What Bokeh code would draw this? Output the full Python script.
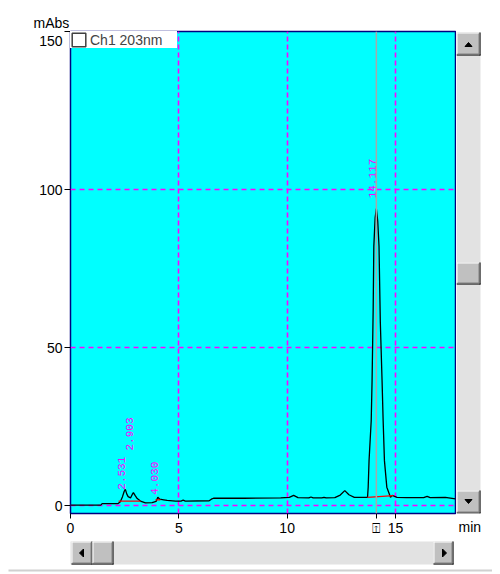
import numpy as np
from bokeh.plotting import figure
from bokeh.models import Range1d, FixedTicker, Span, Legend, LegendItem, Title
from bokeh.layouts import row, column
from bokeh.core.properties import value
from bokeh.embed import file_html
from bokeh.resources import INLINE

# ---------------- data ----------------
time_min = [0.00, 1.40, 1.46, 2.20, 2.30, 2.40, 2.48, 2.531, 2.60, 2.66, 2.77, 2.85, 2.903,
            2.98, 3.08, 3.23, 3.46, 3.77, 3.95, 4.030, 4.12, 4.30, 4.46, 4.85, 5.10, 5.20,
            5.30, 6.40, 6.50, 6.60, 8.00, 9.70, 10.10, 10.30, 10.50, 11.00, 11.10, 11.20,
            11.60, 11.70, 11.80, 12.20, 12.45, 12.66, 12.85, 13.10, 13.71, 13.74, 13.78,
            13.88, 13.92, 13.97, 14.00, 14.06, 14.117, 14.18, 14.24, 14.30, 14.38, 14.43,
            14.49, 14.60, 14.77, 14.85, 15.07, 15.50, 16.30, 16.46, 16.60, 17.30, 17.77]
signal_mabs = [0.1, 0.1, 0.6, 0.6, 1.2, 2.8, 4.5, 5.1, 3.6, 2.8, 2.4, 3.5, 4.1,
               3.2, 2.2, 1.4, 0.85, 0.9, 1.3, 2.6, 2.0, 1.8, 1.6, 1.4, 1.4, 1.7,
               1.4, 1.5, 2.0, 2.3, 2.3, 2.4, 2.6, 3.2, 2.5, 2.4, 2.7, 2.4,
               2.4, 2.6, 2.4, 2.5, 3.3, 4.7, 3.4, 2.6, 2.6, 5.8, 14.2,
               26.9, 39.6, 62.0, 82.0, 91.0, 94.0, 90.0, 82.0, 58.0, 39.6, 26.9,
               14.2, 5.8, 2.6, 3.2, 2.6, 2.5, 2.5, 2.9, 2.5, 2.6, 2.1]

peak_times = [2.531, 2.903, 4.030, 14.117]
peak_labels = ["2.531", "2.903", "4.030", "14.117"]
peak_label_base = [5.0, 17.4, 3.4, 97.2]

baseline_t0 = [2.22, 3.92, 13.71]
baseline_v0 = [1.4, 1.8, 2.6]
baseline_t1 = [3.23, 4.15, 14.90]
baseline_v1 = [1.4, 1.8, 3.1]

x_ticks = [0, 5, 10, 15]
y_ticks = [0, 50, 100, 150]
x_grid = [5, 10, 15]
y_grid = [0, 50, 100]
x_limits = [0, 17.77]
y_limits = [-2.53, 150]
channel_name = "Ch1 203nm"
cursor_time = 14.117
cursor_mark = "\u2350"
x_unit = "min"
y_unit = "mAbs"

FONT = "Liberation Sans"
MAGENTA = "#FF00FF"
NAVY = "#000080"

# ---------------- main chromatogram ----------------
p = figure(width=456, height=540,
           x_range=Range1d(*x_limits), y_range=Range1d(*y_limits),
           output_backend="svg", toolbar_location=None,
           min_border_left=70, min_border_right=1, min_border_top=31, min_border_bottom=27)
p.background_fill_color = "#00FFFF"
p.border_fill_color = "white"
p.outline_line_color = NAVY
p.outline_line_width = 1.5

p.title.text = y_unit
p.title.align = "left"
p.title.offset = -37
p.title.standoff = 1
p.title.text_font = FONT
p.title.text_font_size = "14px"
p.title.text_font_style = "normal"
p.title.text_color = "black"

p.xgrid.ticker = FixedTicker(ticks=x_grid)
p.ygrid.ticker = FixedTicker(ticks=y_grid)
p.xgrid.grid_line_color = MAGENTA
p.ygrid.grid_line_color = MAGENTA
p.xgrid.grid_line_dash = "5 3"
p.ygrid.grid_line_dash = "5 4"
p.grid.grid_line_width = 1.6

p.xaxis.ticker = FixedTicker(ticks=x_ticks + [cursor_time])
p.xaxis.major_label_overrides = {cursor_time: cursor_mark}
p.yaxis.ticker = FixedTicker(ticks=y_ticks)
p.yaxis.major_label_overrides = {y_ticks[-1]: "\n" + str(y_ticks[-1])}
for ax in (p.xaxis, p.yaxis):
    ax.axis_line_color = None
    ax.major_tick_line_color = "black"
    ax.major_tick_in = 0
    ax.minor_tick_line_color = None
    ax.major_label_text_font = FONT
    ax.major_label_text_font_size = "14px"
    ax.major_label_text_color = "black"
p.xaxis.major_tick_out = 5
p.xaxis.major_label_standoff = 1
p.yaxis.major_tick_out = 6
p.yaxis.major_label_standoff = 2

p.line(time_min, signal_mabs, line_color="black", line_width=1.3)
p.segment(x0=baseline_t0, y0=baseline_v0, x1=baseline_t1, y1=baseline_v1,
          line_color="red", line_width=1.2)
p.text(x=peak_times, y=peak_label_base, text=peak_labels, angle=np.pi / 2,
       text_color=MAGENTA, text_font=value("Liberation Mono"), text_font_size="11px",
       text_align="left", text_baseline="bottom")

p.add_layout(Span(location=cursor_time, dimension="height",
                  line_color="#A8A8A8", line_width=1.5))

dummy = p.quad(left=[np.nan], right=[np.nan], top=[np.nan], bottom=[np.nan],
               fill_color="white", line_color="#404040", line_width=1.5)
legend = Legend(items=[LegendItem(label=channel_name, renderers=[dummy])],
                location="top_left", margin=0, padding=4, spacing=0,
                border_line_color=None, background_fill_color="white",
                background_fill_alpha=1.0, label_text_font=FONT,
                label_text_font_size="14px", glyph_width=17, glyph_height=17,
                label_width=87, label_height=16, label_standoff=3)
p.add_layout(legend)

# ---------------- window chrome: scrollbars ----------------
def chrome_fig(w, h, y0, y1):
    f = figure(width=w, height=h, x_range=Range1d(0, w), y_range=Range1d(y1, y0),
               x_axis_type=None, y_axis_type=None, output_backend="svg",
               toolbar_location=None, min_border=0)
    f.grid.visible = False
    f.outline_line_color = None
    f.background_fill_color = "white"
    f.border_fill_color = "white"
    return f


def button(f, x0, x1, y0, y1):
    f.quad(left=x0, right=x1, top=y0, bottom=y1, fill_color="#C0C0C0", line_color=None)
    f.segment(x0=[x0, x0 + 0.5], y0=[y0 + 0.5, y0], x1=[x1 - 1, x0 + 0.5], y1=[y0 + 0.5, y1 - 1],
              line_color="white", line_width=1)
    f.segment(x0=[x0, x1 - 0.5], y0=[y1 - 0.5, y0], x1=[x1, x1 - 0.5], y1=[y1 - 0.5, y1],
              line_color="black", line_width=1)
    f.segment(x0=[x0 + 1, x1 - 1.5], y0=[y1 - 1.5, y0 + 1], x1=[x1 - 1, x1 - 1.5], y1=[y1 - 1.5, y1 - 1],
              line_color="#808080", line_width=1)


# vertical scrollbar: its frame is aligned with the chart frame (page y 31..513)
vs = chrome_fig(36, 540, 31, 513)
vs.quad(left=0, right=24, top=32, bottom=513, fill_color="#E2E2E2", line_color=None)
button(vs, 0, 24, 32, 55)
button(vs, 0, 24, 490, 513)
button(vs, 0, 24, 262, 284)
vs.patch([8.5, 15.5, 12], [46, 46, 42], fill_color="black", line_color="black")
vs.patch([8.5, 15.5, 12], [499, 499, 503], fill_color="black", line_color="black")
vs.add_layout(Title(text=x_unit, align="left", offset=2, standoff=7, text_font=FONT,
                    text_font_size="14px", text_font_style="normal", text_color="black"),
              "below")

hs = chrome_fig(492, 32, 0, 32)
hs.quad(left=70, right=453, top=1, bottom=24, fill_color="#E2E2E2", line_color=None)
button(hs, 71, 92, 1, 24)
button(hs, 92, 113, 1, 24)
button(hs, 433, 453, 1, 24)
hs.patch([79, 83, 83], [12.5, 8.5, 16.5], fill_color="black", line_color="black")
hs.patch([446, 442, 442], [12.5, 8.5, 16.5], fill_color="black", line_color="black")
hs.segment(x0=[8], y0=[30], x1=[492], y1=[30], line_color="#D0D0D0", line_width=2)

layout = column(row(p, vs), hs)

with open("out.html", "w") as fh:
    fh.write(file_html(layout, INLINE))
